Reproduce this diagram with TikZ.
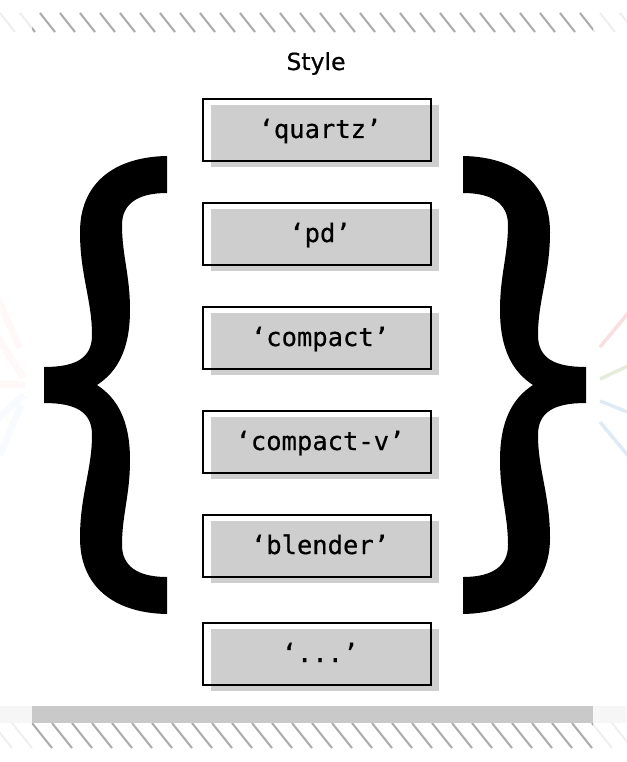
\documentclass[tikz,border=0pt]{standalone}
\usepackage{fontspec}
\newfontfamily\titlefont[FakeBold=0.6]{DejaVu Sans}
\newfontfamily\codefont[FakeBold=0.5]{DejaVu Sans Mono}
\usetikzlibrary{shadows}
\definecolor{shadowgray}{RGB}{206,206,206}
\definecolor{hatchgray}{RGB}{172,172,172}
\definecolor{fadegray}{RGB}{238,238,238}
\definecolor{bargray}{RGB}{201,201,201}
\definecolor{bandlight}{RGB}{246,246,246}
\definecolor{rayred}{RGB}{248,222,222}
\definecolor{raygreen}{RGB}{230,236,220}
\definecolor{rayblue}{RGB}{222,234,246}
\definecolor{faintred}{RGB}{254,249,248}
\definecolor{faintblue}{RGB}{248,250,254}

% outline of the left brace, the right one is its mirror image
\newcommand{\bracepath}{%
  (167,156) .. controls (112,157) and (80,185) .. (80,232)
  .. controls (80,275) and (92,300) .. (92,335)
  .. controls (92,358) and (76,367) .. (44,367)
  -- (44,403)
  .. controls (76,403) and (92,412) .. (92,435)
  .. controls (92,470) and (80,495) .. (80,538)
  .. controls (80,585) and (112,613) .. (167,614)
  -- (167,577)
  .. controls (136,577) and (122,565) .. (122,545)
  .. controls (122,515) and (130,495) .. (130,460)
  .. controls (130,420) and (117,398) .. (97,385)
  .. controls (117,372) and (130,350) .. (130,310)
  .. controls (130,275) and (122,255) .. (122,225)
  .. controls (122,205) and (136,193) .. (167,193)
  -- cycle}

\begin{document}
\begin{tikzpicture}[x=1pt, y=-1pt,
		stylebox/.style = {draw, line width=2.5pt, minimum width=228pt, minimum height=62pt, inner sep=0pt,
			drop shadow={shadow xshift=8pt, shadow yshift=-6pt, fill=shadowgray, opacity=1}},
		styletext/.style = {font=\codefont\fontsize{25.5}{30}\selectfont, text height=16pt, text depth=0pt, inner sep=0pt},
		hatch/.style = {hatchgray, line width=2pt},
		fadedhatch/.style = {fadegray, line width=2pt},
		ray/.style = {line width=3.5pt}
		]
		\useasboundingbox (0,0) rectangle (626,762);

		% faint rays behind the picture
		\draw[ray, rayred] (600,347) -- (630,311);
		\draw[ray, raygreen] (600,379) -- (630,365);
		\draw[ray, rayblue] (600,401) -- (630,413);
		\draw[ray, rayblue] (600,422) -- (630,458);
		\draw[line width=7pt, faintred] (-4,295) -- (20,348);
		\draw[line width=7pt, faintred] (-4,335) -- (24,378);
		\draw[line width=7pt, faintred] (-4,384) -- (25,385);
		\draw[line width=7pt, faintblue] (-4,420) -- (24,395);
		\draw[line width=7pt, faintblue] (0,455) -- (21,405);

		% top strip
		\foreach \i in {-3,...,31}
			\draw[fadedhatch] (40+\i*20,13) -- (55+\i*20,32);
		\begin{scope}
			\clip (32,10) rectangle (593,35);
			\foreach \i in {-1,...,28}
				\draw[hatch] (40+\i*20,13) -- (55+\i*20,32);
		\end{scope}

		% bottom strip
		\fill[bandlight] (0,706) rectangle (626,723);
		\fill[bargray] (32,706) rectangle (593,723);
		\foreach \i in {-3,...,31}
			\draw[fadedhatch] (32+\i*20,723) -- (52+\i*20,748);
		\begin{scope}
			\clip (32,720) rectangle (593,750);
			\foreach \i in {0,...,28}
				\draw[hatch] (32+\i*20,723) -- (52+\i*20,748);
		\end{scope}

		\node[font=\titlefont\fontsize{23.5}{28}\selectfont, anchor=base] (title) at (316,70) {Style};

		% braces
		\fill[black] \bracepath;
		\begin{scope}[shift={(630,0)}, xscale=-1]
			\fill[black] \bracepath;
		\end{scope}

		% style boxes
		\foreach \ypos/\name/\txt in {130/quartz/quartz, 234/pd/pd, 338/compact/compact, 442/compactv/compact-v, 546/blender/blender}{
			\node[stylebox] (\name) at (317,\ypos) {};
			\node[styletext] (\name-txt) at ([xshift=3pt]\name.center) {‘\txt’};
		}
		\node[stylebox] (more) at (317,654) {};
		\node[styletext] (more-txt) at ([xshift=3pt]more.center) {‘...’};
	\end{tikzpicture}
\end{document}
